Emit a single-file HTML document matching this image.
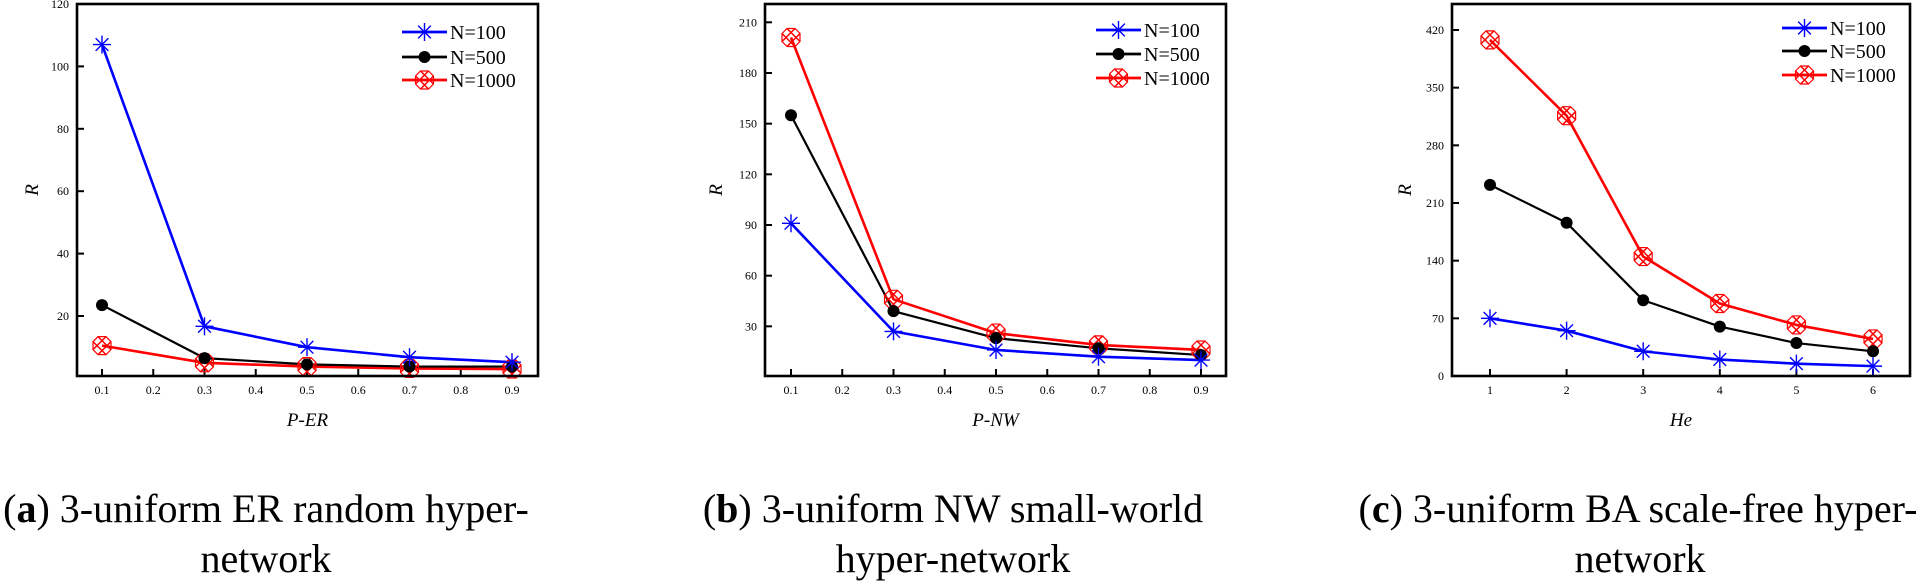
<!DOCTYPE html>
<html><head><meta charset="utf-8">
<style>
html,body{margin:0;padding:0;background:#fff;}
svg{display:block;}
text{font-family:"Liberation Serif",serif;}
</style></head>
<body>
<svg id="s" width="1922" height="582" viewBox="0 0 1922 582" xmlns="http://www.w3.org/2000/svg">
<g id="g"></g>
<text x="266" y="522" font-size="40" text-anchor="middle">(<tspan font-weight="bold">a</tspan>) 3-uniform ER random hyper-</text>
<text x="266" y="572" font-size="40" text-anchor="middle">network</text>
<text x="953" y="522" font-size="40" text-anchor="middle">(<tspan font-weight="bold">b</tspan>) 3-uniform NW small-world</text>
<text x="953" y="572" font-size="40" text-anchor="middle">hyper-network</text>
<text x="1638" y="522" font-size="40" text-anchor="middle">(<tspan font-weight="bold">c</tspan>) 3-uniform BA scale-free hyper-</text>
<text x="1640" y="572" font-size="40" text-anchor="middle">network</text>
</svg>
<script>
const g=document.getElementById('g');let h='';
const C={b:'#0000ff',k:'#000',r:'#ff0000'};
function star(x,y){let s='';for(let i=0;i<4;i++){const a=i*Math.PI/4;const dx=9*Math.cos(a),dy=9*Math.sin(a);s+=`<line x1="${x-dx}" y1="${y-dy}" x2="${x+dx}" y2="${y+dy}" stroke="${C.b}" stroke-width="1.4"/>`;}return s;}
function dot(x,y){return `<circle cx="${x}" cy="${y}" r="6" fill="#000"/>`;}
function lat(x,y){const L=[[-9,-4,4,9],[-4,-9,9,4],[-4,9,9,-4],[-9,4,4,-9]];let s=L.map(l=>`<line x1="${x+l[0]}" y1="${y+l[1]}" x2="${x+l[2]}" y2="${y+l[3]}" stroke="${C.r}" stroke-width="1.5"/>`).join('');
 s+=`<polygon points="${x-9},${y-4} ${x-4},${y-9} ${x+4},${y-9} ${x+9},${y-4} ${x+9},${y+4} ${x+4},${y+9} ${x-4},${y+9} ${x-9},${y+4}" fill="none" stroke="${C.r}" stroke-width="1.2"/>`;return s;}
function panel(p){
 const X=v=>p.x0+(v-p.v0)*p.xs, Y=v=>p.y0-v*p.ys;
 p.xt.forEach((t,i)=>{const x=X(t);h+=`<line x1="${x}" y1="376" x2="${x}" y2="369" stroke="#000" stroke-width="2"/>`;h+=`<text x="${x}" y="394" font-size="12" text-anchor="middle">${p.xl[i]}</text>`;});
 p.yt.forEach(t=>{const y=Y(t);h+=`<line x1="${p.L}" y1="${y}" x2="${p.L+7}" y2="${y}" stroke="#000" stroke-width="2"/>`;h+=`<text x="${p.L-8}" y="${y+4}" font-size="12" text-anchor="end">${t}</text>`;});
 const S=[['r',p.d[2],2.6,lat],['k',p.d[1],2.2,dot],['b',p.d[0],2.6,star]];
 S.forEach(([c,d,w,m])=>{const pts=d.map((v,i)=>X(p.xv[i])+','+Y(v)).join(' ');h+=`<polyline points="${pts}" fill="none" stroke="${C[c]}" stroke-width="${w}" stroke-linejoin="round"/>`;});
 S.forEach(([c,d,w,m])=>{d.forEach((v,i)=>{h+=m(X(p.xv[i]),Y(v));});});
 h+=`<rect x="${p.L}" y="4" width="${p.R-p.L}" height="372" fill="none" stroke="#000" stroke-width="2.6"/>`;
 const ms=[star,dot,lat],cs=['b','k','r'],nm=['N=100','N=500','N=1000'];
 p.ly.forEach((y,i)=>{h+=`<line x1="${p.lx}" y1="${y}" x2="${p.lx+45}" y2="${y}" stroke="${C[cs[i]]}" stroke-width="2.8"/>`;h+=ms[i](p.lx+22.5,y);h+=`<text x="${p.lx+48}" y="${y+7}" font-size="20">${nm[i]}</text>`;});
 h+=`<text x="${(p.L+p.R)/2}" y="426" font-size="19" font-style="italic" text-anchor="middle">${p.xlab}</text>`;
 h+=`<text transform="translate(${p.yx},190) rotate(-90)" font-size="19" font-style="italic" text-anchor="middle">R</text>`;
}
const pv=[0.1,0.3,0.5,0.7,0.9],pt=[0.1,0.2,0.3,0.4,0.5,0.6,0.7,0.8,0.9];
panel({L:77,R:538,x0:102,v0:0.1,xs:512.5,y0:378.4,ys:3.12,xv:pv,xt:pt,xl:pt.map(String),yt:[20,40,60,80,100,120],
 d:[[107,16.7,10,6.8,5.2],[23.5,6.5,4.5,3.8,3.8],[10.5,5,3.8,3.2,3]],lx:402,ly:[32,57,80],xlab:'P-ER',yx:38});
panel({L:765,R:1226,x0:791,v0:0.1,xs:512.5,y0:377,ys:1.689,xv:pv,xt:pt,xl:pt.map(String),yt:[30,60,90,120,150,180,210],
 d:[[91,27,16,12,10],[155,39,23,17,13],[201,46,26,19,16]],lx:1096,ly:[30,54,78],xlab:'P-NW',yx:722});
panel({L:1452,R:1910,x0:1490,v0:1,xs:76.6,y0:376,ys:0.8238,xv:[1,2,3,4,5,6],xt:[1,2,3,4,5,6],xl:['1','2','3','4','5','6'],yt:[0,70,140,210,280,350,420],
 d:[[70,55,30,20,15,12],[232,186,92,60,40,30],[408,316,145,88,62,45]],lx:1782,ly:[28,51,75],xlab:'He',yx:1411});
g.innerHTML=h;
</script>
</body></html>
